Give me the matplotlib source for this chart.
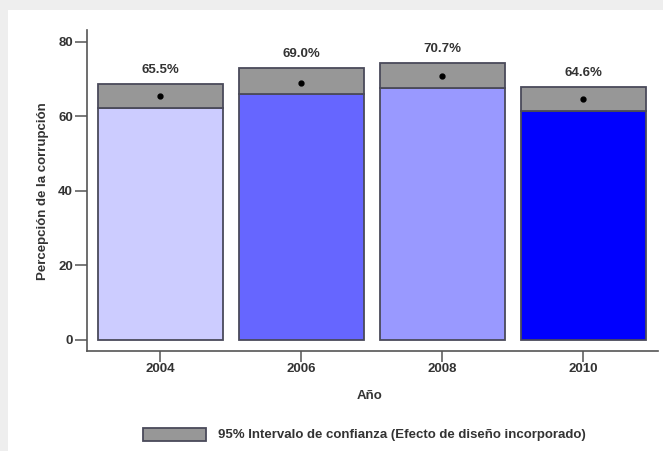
import matplotlib
matplotlib.use("Agg")
import matplotlib.pyplot as plt
from matplotlib.patches import Rectangle

# Perception of corruption by survey year, with 95% confidence interval
years = ["2004", "2006", "2008", "2010"]
means = [65.5, 69.0, 70.7, 64.6]
ci_low = [62.1, 65.9, 67.5, 61.5]
ci_high = [68.5, 72.8, 74.3, 67.7]
value_labels = ["65.5%", "69.0%", "70.7%", "64.6%"]
bar_colors = ["#ccccff", "#6666ff", "#9999ff", "#0000ff"]
y_ticks = [0, 20, 40, 60, 80]

plt.rcParams["font.family"] = ["Liberation Sans", "DejaVu Sans"]
text_color = "#333333"
edge_color = "#4a4a5a"
ci_color = "#979797"

W, H = 663, 451
fig = plt.figure(figsize=(W / 100, H / 100), dpi=100, facecolor="#eeeeee")

# white card on a light grey page
fig.patches.append(Rectangle((8 / W, 0), 1, (H - 10) / H, transform=fig.transFigure,
                             facecolor="white", edgecolor="none", zorder=-10))

ax = fig.add_axes([87 / W, 100 / H, (658 - 87) / W, (351 - 30) / H])
ax.set_facecolor("none")
ax.set_zorder(1)

x = list(range(len(years)))
width = 0.89

# colored bar up to the lower CI bound
ax.bar(x, ci_low, width=width, color=bar_colors, edgecolor=edge_color, linewidth=1.3, zorder=2)
# grey band for the confidence interval
ax.bar(x, [h - l for h, l in zip(ci_high, ci_low)], bottom=ci_low, width=width,
       color=ci_color, edgecolor=edge_color, linewidth=1.3, zorder=2)
# point estimate
ax.plot(x, means, linestyle="none", marker="o", markersize=3.5, color="black", zorder=3)

for xi, top, lab in zip(x, ci_high, value_labels):
    ax.text(xi, top + 3.8, lab, ha="center", va="center", fontsize=9.5,
            color=text_color, fontweight="bold")

ax.set_xlim(-0.52, 3.53)
ax.set_ylim(-2.95, 83.1)
ax.set_xticks(x)
ax.set_xticklabels(years)
ax.set_yticks(y_ticks)
ax.set_yticklabels([str(t) for t in y_ticks])

for side in ("top", "right"):
    ax.spines[side].set_visible(False)
for side in ("left", "bottom"):
    ax.spines[side].set_color("#555555")
    ax.spines[side].set_linewidth(1.2)

ax.tick_params(axis="y", length=9, width=1.1, color="#555555", pad=1,
               labelsize=9.5, labelcolor=text_color)
ax.tick_params(axis="x", length=8, width=1.1, color="#555555", pad=1,
               labelsize=9.5, labelcolor=text_color)
for lbl in ax.get_xticklabels() + ax.get_yticklabels():
    lbl.set_fontweight("bold")

fig.text(43 / W, 1 - 191 / H, "Percepción de la corrupción", rotation=90,
         ha="center", va="center", fontsize=9.5, color=text_color, fontweight="bold")
fig.text(370 / W, 1 - 396 / H, "Año", ha="center", va="center",
         fontsize=9.5, color=text_color, fontweight="bold")

# legend entry for the confidence band
fig.patches.append(Rectangle((143 / W, 1 - 441 / H), 63 / W, 13 / H, transform=fig.transFigure,
                             facecolor=ci_color, edgecolor=edge_color, linewidth=1.3, zorder=2))
fig.text(218 / W, 1 - 435 / H, "95% Intervalo de confianza (Efecto de diseño incorporado)",
         ha="left", va="center", fontsize=9.5, color=text_color, fontweight="bold")

fig.savefig("out.png", dpi=100, facecolor=fig.get_facecolor())
